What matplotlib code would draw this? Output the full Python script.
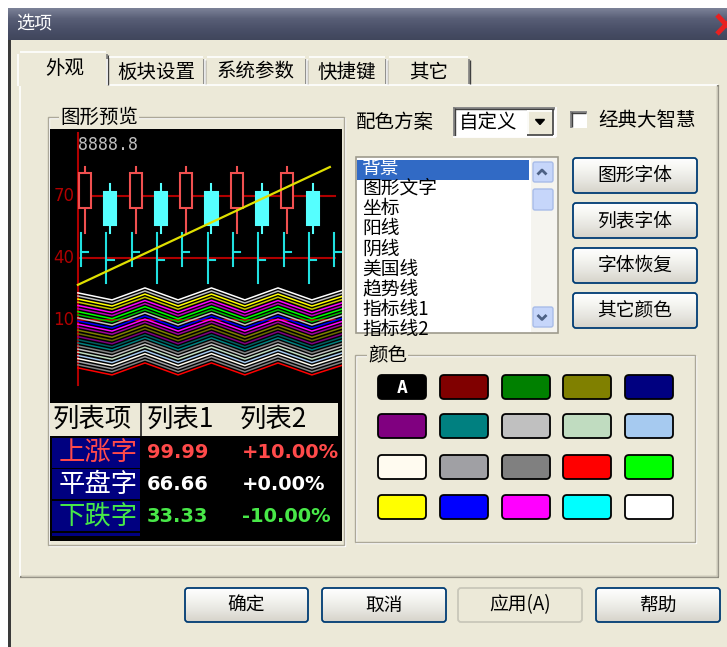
import matplotlib
matplotlib.use("Agg")
from matplotlib import pyplot
from matplotlib.patches import Rectangle, FancyBboxPatch, Polygon
from matplotlib.colors import LinearSegmentedColormap
import numpy

pyplot.rcParams['font.family'] = ['Noto Sans CJK SC', 'DejaVu Sans']

BG = '#ece9d8'

# ---- data ----
title = '选项'
tab_labels = ['外观', '板块设置', '系统参数', '快捷键', '其它']

# candles (preview chart)
candle_x = [0, 1, 2, 3, 4, 5, 6, 7, 8, 9]
candle_open = [64, 72, 64, 72, 64, 72, 64, 72, 64, 72]
candle_close = [81, 56, 81, 56, 81, 56, 81, 56, 81, 56]
candle_high = [84, 76, 84, 76, 84, 76, 84, 76, 84, 76]
candle_low = [52, 52, 52, 52, 52, 52, 52, 52, 52, 52]

# american (OHLC) lines
us_x = [-0.15, 0.85, 1.85, 2.85, 3.85, 4.85, 5.85, 6.85, 7.85, 8.85, 9.85]
us_high = [52, 52, 52, 52, 52, 52, 52, 52, 52, 52, 52]
us_low = [36, 28, 36, 28, 36, 28, 36, 28, 36, 28, 36]
us_close = [43, 39, 43, 39, 43, 39, 43, 39, 43, 39, 43]

# trend line
trend_x = [-0.28, 9.68]
trend_y = [27, 84]

# indicator waves
wave_x = [-0.28, 1.07, 2.37, 3.68, 5.0, 6.32, 7.63, 8.97, 10.2]
wave_shape = [3.4, 0, 5.8, 0, 5.8, 0, 5.8, 0, 4.8]
wave_base = [19.7, 18.2, 16.7, 15.2, 13.6, 12.1, 10.6, 9.1, 7.6, 6.1, 4.6, 3.1, 1.6,
             0.0, -1.5, -3.0, -4.5, -6.0, -7.5, -9.0, -10.6, -12.1, -13.6, -15.1, -16.6]
wave_colors = ['#ffffff', '#c0c0c0', '#ffff00', '#c8c800', '#ff00ff', '#c000c0',
               '#00ff00', '#00c000', '#c0c0c0', '#0000ff', '#ff00ff', '#a000a0',
               '#808000', '#6a6a00', '#800080', '#006060', '#008080', '#808080',
               '#c0c0c0', '#c0dcc0', '#a6caf0', '#fffbf0', '#a0a0a4', '#808080', '#ff0000']
axis_levels = [70, 40, 10]
price_label = '8888.8'

# list table
table_header = ['列表项', '列表1', '列表2']
row_names = ['上涨字', '平盘字', '下跌字']
row_val1 = ['99.99', '66.66', '33.33']
row_val2 = ['+10.00%', '+0.00%', '-10.00%']
row_colors = ['#ff4a4a', '#ffffff', '#48e848']

# right side
scheme_label = '配色方案'
scheme_value = '自定义'
check_label = '经典大智慧'
list_items = ['背景', '图形文字', '坐标', '阳线', '阴线', '美国线', '趋势线', '指标线1', '指标线2']
side_buttons = ['图形字体', '列表字体', '字体恢复', '其它颜色']
swatch_colors = [['#000000', '#800000', '#008000', '#808000', '#000080'],
                 ['#800080', '#008080', '#c0c0c0', '#c0dcc0', '#a6caf0'],
                 ['#fffbf0', '#a0a0a4', '#808080', '#ff0000', '#00ff00'],
                 ['#ffff00', '#0000ff', '#ff00ff', '#00ffff', '#ffffff']]
bottom_buttons = ['确定', '取消', '应用(A)', '帮助']

# ---- figure ----
fig = pyplot.figure(figsize=(7.27, 6.47), dpi=100, facecolor=BG)
ax = fig.add_axes([0, 0, 1, 1])
ax.set_xlim(0, 727)
ax.set_ylim(647, 0)
ax.axis('off')


def line(x, y, c, lw=1.0, z=3):
    ax.plot(x, y, color=c, lw=lw, zorder=z, solid_capstyle='butt')


def gradient(x0, y0, x1, y1, colors, clip=None, z=2):
    grad = numpy.linspace(0, 1, 64).reshape(-1, 1)
    cmap = LinearSegmentedColormap.from_list('g', colors)
    im = ax.imshow(grad, extent=(x0, x1, y1, y0), cmap=cmap, aspect='auto',
                   zorder=z, interpolation='bilinear')
    if clip is not None:
        im.set_clip_path(clip)


def xp_button(x0, y0, x1, y1, text, enabled=True):
    r = 3
    p = FancyBboxPatch((x0 + r, y0 + r), x1 - x0 - 2 * r, y1 - y0 - 2 * r,
                       boxstyle='round,pad=%d' % r,
                       fc='none', ec='#003c74' if enabled else '#c9c7ba', lw=1.3, zorder=5)
    ax.add_patch(p)
    if enabled:
        gradient(x0, y0, x1, y1, ['#ffffff', '#f4f4f0', '#e6e5df', '#d6d3ca'], clip=p, z=4)
    else:
        ax.add_patch(FancyBboxPatch((x0 + r, y0 + r), x1 - x0 - 2 * r, y1 - y0 - 2 * r,
                                    boxstyle='round,pad=%d' % r, fc=BG, ec='none', zorder=4))
    ax.text((x0 + x1) / 2, (y0 + y1) / 2, text, ha='center', va='center',
            fontsize=13.5, color='black', zorder=6)


def groupbox(x0, y0, x1, y1, label, lx):
    ax.add_patch(Rectangle((x0 + 1, y0 + 1), x1 - x0, y1 - y0, fc='none', ec='white', lw=1, zorder=2))
    ax.add_patch(Rectangle((x0, y0), x1 - x0, y1 - y0, fc='none', ec='#aca899', lw=1, zorder=2))
    ax.text(lx, y0, label, ha='left', va='center', fontsize=14, color='black', zorder=3,
            bbox=dict(fc=BG, ec='none', pad=1))


# window chrome
ax.add_patch(Rectangle((0, 0), 727, 8, fc='white', ec='none', zorder=1))
ax.add_patch(Rectangle((0, 0), 8, 647, fc='white', ec='none', zorder=1))
ax.add_patch(Rectangle((8, 8), 3, 639, fc='#3a3a3a', ec='none', zorder=2))
gradient(8, 8, 727, 40, ['#7c8298', '#585e76', '#4a5068', '#40465c'], z=2)
ax.text(16, 24, title, ha='left', va='center', fontsize=13, color='white', zorder=3)
line([717, 735], [15, 34], '#e82020', lw=3.5, z=4)
line([735, 717], [15, 34], '#e82020', lw=3.5, z=4)
ax.set_xlim(0, 727)
ax.set_ylim(647, 0)

# tab page panel
line([20, 718], [85, 85], 'white', 1.2)
line([20, 20], [85, 577], 'white', 1.2)
line([20, 719], [577, 577], '#8a887c', 1.6)
line([718, 718], [85, 577], '#8a887c', 1.6)
line([21, 717], [575.5, 575.5], '#c8c5b6', 1)
line([716.5, 716.5], [86, 576], '#c8c5b6', 1)

# tabs
tab_edges = [22, 107, 205, 307, 387, 470]
for i, lab in enumerate(tab_labels):
    x0, x1 = tab_edges[i], tab_edges[i + 1]
    top = 52 if i == 0 else 57
    bot = 86 if i == 0 else 85
    if i == 0:
        x0 -= 4
        x1 += 1
        ax.add_patch(Rectangle((x0, top), x1 - x0, bot - top, fc=BG, ec='none', zorder=4))
    line([x0, x0], [bot, top + 2], 'white', 1.2, z=5)
    line([x0 + 2, x1 - 2], [top, top], 'white', 1.2, z=5)
    line([x1 - 1, x1 - 1], [top + 2, bot - 1], '#808080', 1.2, z=5)
    line([x1, x1], [top + 3, bot - 1], '#404040', 1.0, z=5)
    cx = (tab_edges[i] + tab_edges[i + 1]) / 2
    ax.text(cx, (top + bot) / 2 + 1 - (2 if i == 0 else 0), lab, ha='center', va='center',
            fontsize=14, color='black', zorder=6)

# preview group
groupbox(48, 117, 344, 545, '图形预览', 60)
ax.add_patch(Rectangle((50, 129), 292, 412, fc='black', ec='none', zorder=3))

# table below preview
ax.add_patch(Rectangle((50, 403), 288, 33, fc=BG, ec='none', zorder=4))
line([140.5, 140.5], [403, 436], '#202020', 1.2, z=5)
hx = [53, 147, 240]
for x, t in zip(hx, table_header):
    ax.text(x, 419.5, t, ha='left', va='center', fontsize=19, color='black', zorder=6)
row_tops = [438, 469, 501]
for i in range(3):
    y0 = row_tops[i]
    ax.add_patch(Rectangle((52, y0), 88, 30, fc='#000080', ec='none', zorder=4))
    ym = y0 + 15
    ax.text(138, ym, row_names[i], ha='right', va='center', fontsize=19, color=row_colors[i], zorder=6)
    ax.text(147, ym, row_val1[i], ha='left', va='center', fontsize=14, fontweight='bold',
            family='DejaVu Sans', color=row_colors[i], zorder=6)
    ax.text(242, ym, row_val2[i], ha='left', va='center', fontsize=14, fontweight='bold',
            family='DejaVu Sans', color=row_colors[i], zorder=6)
ax.add_patch(Rectangle((52, 533), 88, 3, fc='#000080', ec='none', zorder=4))

# right side: scheme combo + checkbox
ax.text(356, 122, scheme_label, ha='left', va='center', fontsize=14, color='black', zorder=3)
ax.add_patch(Rectangle((453, 107), 102, 30, fc='white', ec='none', zorder=3))
line([453, 555], [107.5, 107.5], '#808080', 1.3)
line([453.5, 453.5], [107, 137], '#808080', 1.3)
line([454.5, 554], [108.8, 108.8], '#404040', 1.0)
line([454.8, 454.8], [108, 136], '#404040', 1.0)
line([453, 556], [137, 137], 'white', 1.3)
line([555.5, 555.5], [107, 137], 'white', 1.3)
ax.text(459, 122, scheme_value, ha='left', va='center', fontsize=14, color='black', zorder=4)
ax.add_patch(Rectangle((527, 110), 26, 25, fc=BG, ec='none', zorder=4))
line([527, 553], [110.5, 110.5], 'white', 1.2, z=5)
line([527.5, 527.5], [110, 135], 'white', 1.2, z=5)
line([527, 553], [134.5, 134.5], '#404040', 1.2, z=5)
line([552.5, 552.5], [110, 135], '#404040', 1.2, z=5)
ax.add_patch(Polygon([[535.5, 119.5], [544.5, 119.5], [540, 124.5]], closed=True, fc='black', ec='black', zorder=6))
ax.add_patch(Rectangle((570, 111), 17, 17, fc='white', ec='none', zorder=3))
line([570, 587], [111.5, 111.5], '#808080', 1.3)
line([570.5, 570.5], [111, 128], '#808080', 1.3)
line([571, 586], [112.8, 112.8], '#404040', 1.0)
line([571.8, 571.8], [112, 127], '#404040', 1.0)
ax.text(598, 120, check_label, ha='left', va='center', fontsize=14, color='black', zorder=3)

# list box
lb = Rectangle((356, 157), 202, 176, fc='white', ec='#9d9a8c', lw=1.2, zorder=3)
ax.add_patch(lb)
ax.add_patch(Rectangle((531, 158), 26, 174, fc='#f5f4ef', ec='none', zorder=4))
hl = Rectangle((357, 160), 172, 19.5, fc='#316ac5', ec='none', zorder=4)
ax.add_patch(hl)
clipbox = Rectangle((357, 158), 173, 174, transform=ax.transData)
for i, item in enumerate(list_items):
    t = ax.text(362, 168 + 20.2 * i, item, ha='left', va='center', fontsize=13.5,
                color='white' if i == 0 else 'black', zorder=5)
    t.set_clip_path(clipbox)
for (y0, y1) in [(162, 182), (189, 210), (307, 327)]:
    sb = FancyBboxPatch((535, y0 + 2), 16, y1 - y0 - 4, boxstyle='round,pad=2',
                        fc='#c6d6fa', ec='#a8bce8', lw=1, zorder=5)
    ax.add_patch(sb)
line([537.5, 542, 546.5], [174.5, 170, 174.5], '#4d6185', 2.0, z=6)
line([537.5, 542, 546.5], [315, 319.5, 315], '#4d6185', 2.0, z=6)

# side buttons
side_y = [158, 203, 248, 293]
for y0, t in zip(side_y, side_buttons):
    xp_button(573, y0, 697, y0 + 35, t)

# color group
groupbox(355, 355, 695, 542, '颜色', 368)
sw_x = [402, 464, 526, 587, 649]
sw_y = [387, 426, 467, 507]
for r in range(4):
    for c in range(5):
        cx, cy = sw_x[c], sw_y[r]
        ax.add_patch(FancyBboxPatch((cx - 20, cy - 8), 40, 16, boxstyle='round,pad=4',
                                    fc=swatch_colors[r][c], ec='black', lw=1.3, zorder=4))
ax.text(sw_x[0], sw_y[0] + 1, 'A', ha='center', va='center', fontsize=13, fontweight='bold',
        family='DejaVu Sans Mono', color='white', zorder=5)

# bottom buttons
bx = [(185, 308), (322, 446), (458, 582), (596, 720)]
for (x0, x1), t in zip(bx, bottom_buttons):
    xp_button(x0, 588, x1, 622, t, enabled=(t != '应用(A)'))

ax.set_xlim(0, 727)
ax.set_ylim(647, 0)

# ---- preview chart ----
pv = fig.add_axes([50 / 727, 1 - 402 / 647, 292 / 727, 273 / 647])
pv.set_facecolor('black')
pv.set_xlim(-1.383, 10.16)
pv.set_ylim(-29.7, 102.4)
pv.set_xticks([])
pv.set_yticks([])
for s in pv.spines.values():
    s.set_visible(False)

AXR = '#b00000'
pv.plot([-0.28, -0.28], [-21.5, 100.5], color=AXR, lw=1.5, zorder=2)
for lv in axis_levels:
    pv.plot([-0.28, 9.9], [lv, lv], color=AXR, lw=1.5, zorder=2)
    pv.text(-0.42, lv, str(lv), ha='right', va='center', fontsize=12, color=AXR,
            family='DejaVu Sans', zorder=5)
pv.text(-0.28, 94.5, price_label, ha='left', va='center', fontsize=12, color='#c0c0c0',
        family='DejaVu Sans Mono', zorder=5)

for x, o, c, h, l in zip(candle_x, candle_open, candle_close, candle_high, candle_low):
    up = c > o
    col = '#f05050' if up else '#55ffff'
    pv.plot([x, x], [l, h], color=col, lw=1.5, zorder=3)
    pv.add_patch(Rectangle((x - 0.24, min(o, c)), 0.48, abs(c - o),
                           fc='black' if up else col, ec=col, lw=1.5, zorder=4))

for x, h, l, c in zip(us_x, us_high, us_low, us_close):
    pv.plot([x, x], [l, h], color='#20e0e0', lw=1.5, zorder=3)
    pv.plot([x, x + 0.28], [c, c], color='#20e0e0', lw=1.5, zorder=3)

pv.plot(trend_x, trend_y, color='#e0e000', lw=1.6, zorder=6)

wx = numpy.array(wave_x)
ws = numpy.array(wave_shape)
for base, col in zip(wave_base, wave_colors):
    pv.plot(wx, base + ws, color=col, lw=1.1, zorder=3)

fig.savefig('out.png', dpi=100, facecolor=BG)
